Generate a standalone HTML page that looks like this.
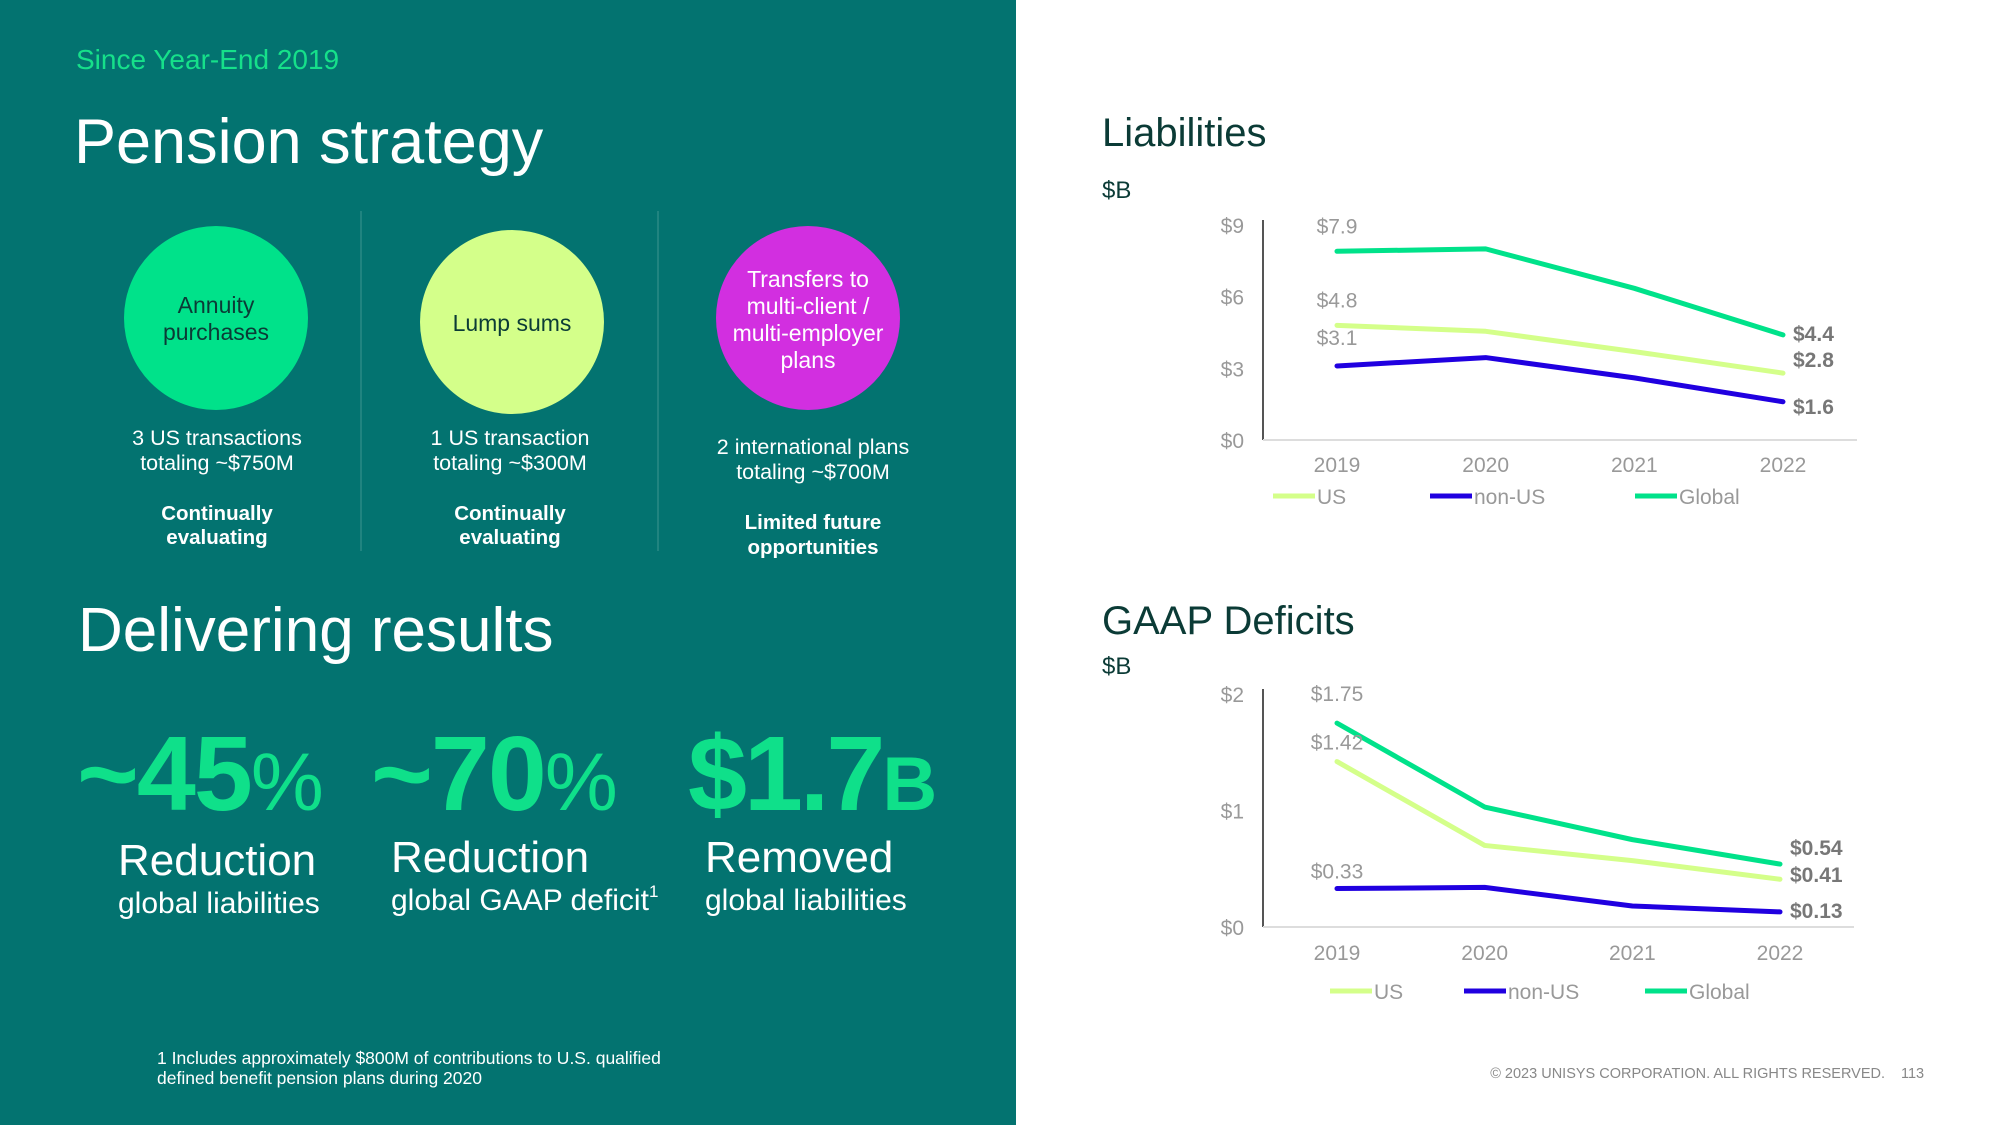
<!DOCTYPE html>
<html><head><meta charset="utf-8"><style>
body{margin:0;width:2000px;height:1125px;overflow:hidden;background:#fff;font-family:"Liberation Sans",sans-serif}
svg{display:block}
</style></head><body>
<svg id="s" width="2000" height="1125" viewBox="0 0 2000 1125" xmlns="http://www.w3.org/2000/svg" font-family="Liberation Sans, sans-serif">
<rect x="0" y="0" width="1016" height="1125" fill="#037370"/>
<text x="76" y="69" font-size="28" fill="#16e08a">Since Year-End 2019</text>
<text x="74" y="163" font-size="63" fill="#fff">Pension strategy</text>
<line x1="361" y1="211" x2="361" y2="551" stroke="#2a8a86" stroke-width="1.5"/>
<line x1="658" y1="211" x2="658" y2="551" stroke="#2a8a86" stroke-width="1.5"/>
<g>
<circle cx="216" cy="318" r="92" fill="#00e28a"/>
<text x="216" y="313" font-size="23" fill="#0b3b36" text-anchor="middle">Annuity</text>
<text x="216" y="340" font-size="23" fill="#0b3b36" text-anchor="middle">purchases</text></g>
<g>
<circle cx="512" cy="322" r="92" fill="#d4ff8a"/>
<text x="512" y="331" font-size="23" fill="#0b3b36" text-anchor="middle">Lump sums</text></g>
<g>
<circle cx="808" cy="318" r="92" fill="#d22fe0"/>
<text x="808" y="287" font-size="23" fill="#fff" text-anchor="middle">Transfers to</text>
<text x="808" y="314" font-size="23" fill="#fff" text-anchor="middle">multi-client /</text>
<text x="808" y="341" font-size="23" fill="#fff" text-anchor="middle">multi-employer</text>
<text x="808" y="368" font-size="23" fill="#fff" text-anchor="middle">plans</text></g>
<g fill="#fff" text-anchor="middle" font-size="21.5">
<text x="217" y="445">3 US transactions</text>
<text x="217" y="470">totaling ~$750M</text>
<text x="217" y="520" font-weight="bold" font-size="20.5">Continually</text>
<text x="217" y="544" font-weight="bold" font-size="20.5">evaluating</text>
<text x="510" y="445">1 US transaction</text>
<text x="510" y="470">totaling ~$300M</text>
<text x="510" y="520" font-weight="bold" font-size="20.5">Continually</text>
<text x="510" y="544" font-weight="bold" font-size="20.5">evaluating</text>
<text x="813" y="454">2 international plans</text>
<text x="813" y="479">totaling ~$700M</text>
<text x="813" y="529" font-weight="bold" font-size="20.5">Limited  future</text>
<text x="813" y="554" font-weight="bold" font-size="20.5">opportunities</text>
</g>
<text x="78" y="651" font-size="62" fill="#fff">Delivering results</text>
<g fill="#0fe08a" font-weight="bold">
<text x="77" y="810" font-size="106" letter-spacing="-2">~45<tspan font-size="82" font-weight="normal">%</tspan></text>
<text x="371" y="810" font-size="106" letter-spacing="-2">~70<tspan font-size="82" font-weight="normal">%</tspan></text>
<text x="688" y="810" font-size="106" letter-spacing="-3">$1.7<tspan font-size="76">B</tspan></text>
</g>
<g fill="#fff">
<text x="118" y="875" font-size="44">Reduction</text>
<text x="118" y="913" font-size="30">global liabilities</text>
<text x="391" y="872" font-size="44">Reduction</text>
<text x="391" y="910" font-size="30">global GAAP deficit<tspan font-size="17" dy="-13">1</tspan></text>
<text x="705" y="872" font-size="44">Removed</text>
<text x="705" y="910" font-size="30">global liabilities</text>
<text x="157" y="1064" font-size="17.5">1 Includes approximately $800M of contributions to U.S. qualified</text>
<text x="157" y="1084" font-size="17.5">defined benefit pension plans during 2020</text>
</g>
<text x="1885" y="1078" font-size="14.5" fill="#888" text-anchor="end">© 2023 UNISYS CORPORATION. ALL RIGHTS RESERVED.</text>
<text x="1901" y="1078" font-size="14.5" fill="#888">113</text>
<text x="1102" y="146" font-size="40" fill="#0b3b36">Liabilities</text>
<text x="1102" y="198" font-size="24" fill="#0b3b36">$B</text>
<text x="1102" y="634" font-size="40" fill="#0b3b36">GAAP Deficits</text>
<text x="1102" y="674" font-size="24" fill="#0b3b36">$B</text>
<g id="c1"></g><g id="c2"></g>
</svg>
<script>
const years = ["2019","2020","2021","2022"];
const liabUS = [4.8, 4.55, 3.7, 2.8];
const liabNonUS = [3.1, 3.45, 2.6, 1.6];
const liabGlobal = [7.9, 8.0, 6.35, 4.4];
const liabTicks = [0, 3, 6, 9];
const gaapUS = [1.42, 0.70, 0.57, 0.41];
const gaapNonUS = [0.33, 0.34, 0.18, 0.13];
const gaapGlobal = [1.75, 1.03, 0.75, 0.54];
const gaapTicks = [0, 1, 2];
const NS="http://www.w3.org/2000/svg";
function mk(p,t,a,txt){const e=document.createElementNS(NS,t);for(const k in a)e.setAttribute(k,a[k]);if(txt!=null)e.textContent=txt;p.appendChild(e);return e;}
function chart(g,o){
 const x=i=>o.x0+i*(o.x1-o.x0)/(years.length-1);
 const y=v=>o.yb-(v/o.max)*(o.yb-o.yt);
 const ax=mk(g,'line',{x1:o.axX,y1:o.yt-5,x2:o.axX,y2:o.yb,stroke:'#555','stroke-width':2});
 
 
 const bx=mk(g,'line',{x1:o.axX,y1:o.yb,x2:o.axEnd,y2:o.yb,stroke:'#ddd','stroke-width':2});
 
 
 o.ticks.forEach(t=>{const e=mk(g,'text',{x:o.axX-19,y:y(t)+8,'font-size':21,fill:'#999','text-anchor':'end'},'$'+t);
  
  });
 years.forEach((yr,i)=>{const e=mk(g,'text',{x:x(i),y:o.yearY,'font-size':21,fill:'#999','text-anchor':'middle'},yr);
  
  });
 const ser=[[o.us,'#d4ff8a','us'],[o.non,'#2000e0','non-us'],[o.glob,'#00e28a','global']];
 ser.forEach(s=>{const pl=mk(g,'polyline',{points:s[0].map((v,i)=>x(i)+','+y(v)).join(' '),fill:'none',stroke:s[1],'stroke-width':5,'stroke-linejoin':'round','stroke-linecap':'round'});
  
  });
 o.labels.forEach(l=>{const s=ser[l[0]][0];const v=s[l[1]];const last=l[1]===years.length-1;
  const e=mk(g,'text',{x:x(l[1])+(last?10:0),y:y(v)+l[2],'font-size':21,fill:last?'#777':'#999','font-weight':last?'bold':'normal','text-anchor':last?'start':'middle'},'$'+(o.dec?v.toFixed(2):v.toFixed(1)));
  
  });
 const leg=[[o.legX[0],'#d4ff8a','US'],[o.legX[1],'#2000e0','non-US'],[o.legX[2],'#00e28a','Global']];
 leg.forEach(l=>{const lg=mk(g,'g',{});
  
  
  mk(lg,'line',{x1:l[0],y1:o.legY,x2:l[0]+42,y2:o.legY,stroke:l[1],'stroke-width':5});
  mk(lg,'text',{x:l[0]+44,y:o.legY+8,'font-size':21,fill:'#999'},l[2]);});
}
chart(document.getElementById('c1'),{x0:1337,x1:1783,yt:225,yb:440,max:9,axX:1263,axEnd:1857,ticks:liabTicks,yearY:472,
 us:liabUS,non:liabNonUS,glob:liabGlobal,dec:false,legY:496,legX:[1273,1430,1635],
 labels:[[2,0,-18],[0,0,-18],[1,0,-21],[2,3,6],[0,3,-6],[1,3,12]]});
chart(document.getElementById('c2'),{x0:1337,x1:1780,yt:694,yb:927,max:2,axX:1263,axEnd:1854,ticks:gaapTicks,yearY:960,
 us:gaapUS,non:gaapNonUS,glob:gaapGlobal,dec:true,legY:991,legX:[1330,1464,1645],
 labels:[[2,0,-22],[0,0,-12],[1,0,-10],[2,3,-9],[0,3,3],[1,3,6]]});
</script>
</body></html>
